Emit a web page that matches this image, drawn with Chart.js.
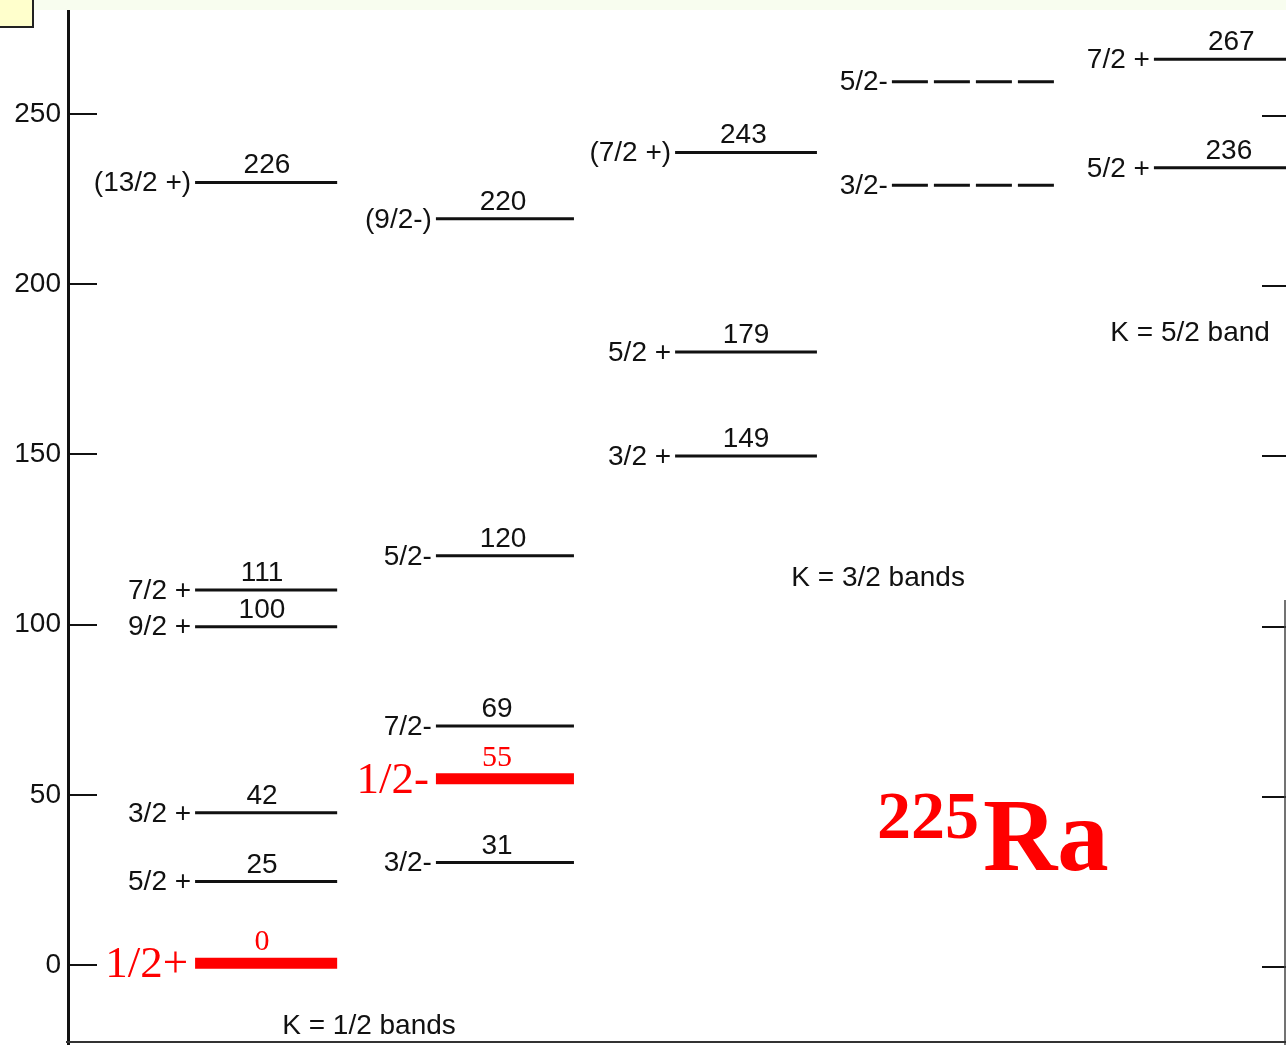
<!DOCTYPE html>
<html>
<head>
<meta charset="utf-8">
<script src="https://cdn.jsdelivr.net/npm/chart.js@4.4.0/dist/chart.umd.min.js"></script>
<style>
html,body{margin:0;padding:0;background:#fff;overflow:hidden}
#wrap{width:1286px;height:1045px;position:relative}
canvas{display:block}
</style>
</head>
<body>
<div id="wrap"><canvas id="c" width="1286" height="1045"></canvas></div>
<script>
// ---------------- DATA ----------------
const spinLabels   = ['1/2+', '5/2 +', '3/2 +', '9/2 +', '7/2 +', '(13/2 +)',
                      '3/2-', '1/2-', '7/2-', '5/2-', '(9/2-)',
                      '3/2 +', '5/2 +', '(7/2 +)',
                      '3/2-', '5/2-',
                      '5/2 +', '7/2 +'];
const energyLabels = ['0', '25', '42', '100', '111', '226',
                      '31', '55', '69', '120', '220',
                      '149', '179', '243',
                      '', '',
                      '236', '267'];
const levelEnergy  = [0.5, 24.5, 44.7, 99.4, 110.2, 229.9,
                      30.1, 54.7, 70.2, 120.2, 219.2,
                      149.5, 180.1, 238.7,
                      229.1, 259.5,
                      234.2, 266.1];
const bandColumn   = [0, 0, 0, 0, 0, 0,
                      1, 1, 1, 1, 1,
                      2, 2, 2,
                      3, 3,
                      4, 4];
const yTicks       = [0, 50, 100, 150, 200, 250];
const bandTitles   = ['K = 1/2 bands', 'K = 3/2 bands', 'K = 5/2 band'];
const nucleusMass  = '225';
const nucleusName  = 'Ra';

// ---------------- LAYOUT / STYLE ----------------
const X_MIN = -0.828, X_MAX = 4.290;
const Y_MIN = -23.5,  Y_MAX = 283.5;
const columnExtent = [[-0.294, 0.303], [-0.282, 0.298], [-0.277, 0.319], [-0.366, 0.324], [-0.265, 0.307]];
const energyLabelX = [-0.013, -0.013, -0.013, -0.013, -0.013, 0.008, -0.025, -0.025, -0.025, 0.0, -0.0, 0.021, 0.021, 0.01, 0, 0, 0.05, 0.06];
const redLevels    = new Set([0, 7]);
const dashedLevels = new Set([14, 15]);
const bandTitlePos = [[0.437, -17.9], [2.576, 113.7], [3.887, 185.7]];
const nucleusPos   = [2.571, 27.9];
const INK = '#111111';
const SANS = '"Liberation Sans", Arial, Helvetica, sans-serif';
const SERIF = '"Liberation Serif", "Times New Roman", serif';
const RED = '#ff0000';

const datasets = levelEnergy.map((e, i) => {
  const col = bandColumn[i];
  const ext = columnExtent[col];
  const red = redLevels.has(i);
  return {
    data: [{x: col + ext[0], y: e}, {x: col + ext[1], y: e}],
    borderColor: red ? RED : INK,
    borderWidth: red ? 11 : 3,
    borderDash: dashedLevels.has(i) ? [36, 6] : [],
    borderCapStyle: 'butt',
    pointRadius: 0,
    fill: false,
    tension: 0
  };
});

const decor = {
  id: 'decor',
  afterDatasetsDraw(chart) {
    const ctx = chart.ctx;
    const xs = chart.scales.x, ys = chart.scales.y;
    const X = v => xs.getPixelForValue(v);
    const Y = v => ys.getPixelForValue(v);
    ctx.save();
    // inward ticks on the left axis, ticks on the right edge
    ctx.strokeStyle = INK;
    ctx.lineWidth = 2;
    yTicks.forEach(v => {
      const py = Math.round(Y(v));
      ctx.beginPath(); ctx.moveTo(chart.chartArea.left, py); ctx.lineTo(chart.chartArea.left + 29, py); ctx.stroke();
      ctx.beginPath(); ctx.moveTo(1262, py + 2); ctx.lineTo(1286, py + 2); ctx.stroke();
    });
    // right frame and bottom frame
    ctx.strokeStyle = '#444';
    ctx.lineWidth = 1.5;
    ctx.beginPath(); ctx.moveTo(1285, 600); ctx.lineTo(1285, 1045); ctx.stroke();
    ctx.lineWidth = 2;
    ctx.strokeStyle = '#333';
    ctx.beginPath(); ctx.moveTo(chart.chartArea.left - 2, 1042); ctx.lineTo(1286, 1042); ctx.stroke();

    // level labels
    levelEnergy.forEach((e, i) => {
      const col = bandColumn[i];
      const ext = columnExtent[col];
      const red = redLevels.has(i);
      const py = Y(e);
      const left = X(col + ext[0]);
      ctx.textAlign = 'right';
      ctx.textBaseline = 'middle';
      if (red) {
        ctx.fillStyle = RED;
        ctx.font = '45px ' + SERIF;
        ctx.fillText(spinLabels[i], left - 7, py + 2);
      } else {
        ctx.fillStyle = INK;
        ctx.font = '28px ' + SANS;
        ctx.fillText(spinLabels[i], left - 4, py + 1);
      }
      if (energyLabels[i]) {
        ctx.textAlign = 'center';
        ctx.textBaseline = 'alphabetic';
        const cx = X(col + energyLabelX[i]);
        if (red) {
          ctx.fillStyle = RED;
          ctx.font = '30px ' + SERIF;
          ctx.fillText(energyLabels[i], cx, py - 13);
        } else {
          ctx.fillStyle = INK;
          ctx.font = '28px ' + SANS;
          ctx.fillText(energyLabels[i], cx, py - 9);
        }
      }
    });

    // band titles
    ctx.fillStyle = INK;
    ctx.font = '28px ' + SANS;
    ctx.textAlign = 'center';
    ctx.textBaseline = 'middle';
    bandTitles.forEach((t, i) => {
      ctx.fillText(t, X(bandTitlePos[i][0]), Y(bandTitlePos[i][1]));
    });

    // nucleus label
    ctx.fillStyle = RED;
    ctx.textAlign = 'left';
    ctx.textBaseline = 'alphabetic';
    const nx = X(nucleusPos[0]), nb = Y(nucleusPos[1]);
    ctx.font = 'bold 68px ' + SERIF;
    ctx.fillText(nucleusMass, nx, nb - 32);
    const w = ctx.measureText(nucleusMass).width;
    ctx.font = 'bold 103px ' + SERIF;
    ctx.fillText(nucleusName, nx + w + 4, nb);

    ctx.restore();
  },
  afterDraw(chart) {
    const ctx = chart.ctx;
    ctx.save();
    ctx.fillStyle = '#f8fdef';
    ctx.fillRect(0, 0, 1286, 10);
    ctx.fillStyle = '#ffffcc';
    ctx.fillRect(0, 0, 33, 27);
    ctx.strokeStyle = '#222';
    ctx.lineWidth = 2;
    ctx.beginPath(); ctx.moveTo(33, 0); ctx.lineTo(33, 27); ctx.lineTo(0, 27); ctx.stroke();
    ctx.restore();
  }
};

new Chart(document.getElementById('c').getContext('2d'), {
  type: 'line',
  data: { datasets },
  options: {
    responsive: false,
    animation: false,
    layout: { padding: 0, autoPadding: false },
    plugins: { legend: { display: false }, tooltip: { enabled: false } },
    scales: {
      x: { type: 'linear', min: X_MIN, max: X_MAX, display: false },
      y: {
        type: 'linear', min: Y_MIN, max: Y_MAX, position: 'left',
        afterBuildTicks: s => { s.ticks = yTicks.map(v => ({ value: v })); },
        afterFit: s => { s.width = 68; s.paddingTop = 0; s.paddingBottom = 0; },
        grid: { display: true, drawOnChartArea: false, drawTicks: false },
        border: { display: true, color: INK, width: 3 },
        ticks: { padding: 7, color: INK, font: { family: SANS, size: 28 } }
      }
    }
  },
  plugins: [decor]
});
</script>
</body>
</html>
